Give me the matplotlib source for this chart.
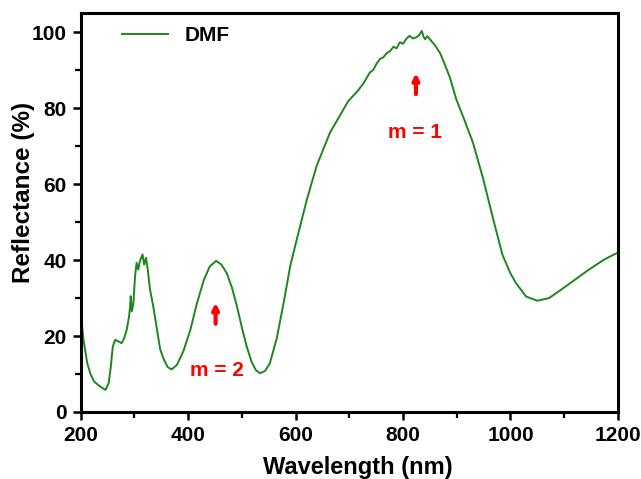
import matplotlib
matplotlib.use('Agg')
import matplotlib.pyplot as plt
from matplotlib.ticker import MultipleLocator

plt.rcParams['font.family'] = ['Liberation Sans', 'DejaVu Sans']
plt.rcParams['font.weight'] = 'bold'

# reflectance spectrum
wavelength = [200, 205, 212, 218, 225, 235, 246, 252, 256, 259.6, 264, 270, 276, 281,
              285.6, 290, 292, 293, 295, 298, 301, 304, 307, 310, 315, 318, 321.5, 324.7,
              329, 335, 342, 348, 355, 362, 369, 379, 391, 404, 416, 429, 440, 452, 462,
              472, 482, 491, 500, 509, 518, 526, 534, 543, 552, 565, 578, 590, 602, 621,
              639, 664, 680, 698, 715, 726, 738, 745, 750, 757, 763, 770, 776, 782, 788,
              794, 800, 806, 812, 818, 825, 830, 835, 838, 841, 845, 850, 860, 869, 875,
              887, 899, 914, 930, 949, 968, 985, 1000, 1010, 1029, 1050, 1072, 1103, 1146,
              1175, 1200]
reflectance = [26.5, 19, 12.9, 10, 8.0, 6.8, 5.8, 7.6, 12, 17.2, 19.0, 18.6, 18.1, 19.5,
               21.7, 25.2, 28, 30.5, 26.5, 28.7, 35.7, 39.3, 37.5, 39.7, 41.5, 38.8, 40.6, 37.5,
               32.2, 27.8, 21.6, 16.4, 13.7, 11.8, 11.2, 12.4, 16, 21.6, 28.5, 34.7, 38.3, 39.8, 38.8,
               36.5, 32.5, 27.7, 22.2, 17.2, 13.2, 11, 10.2, 10.8, 12.8, 19.5, 29, 38.5, 45.4, 56,
               64.8, 73.6, 77.5, 81.9, 84.5, 86.5, 89.4, 90.2, 91.6, 93, 93.4, 94.6, 95.1, 96.2, 95.8,
               97.4, 97.0, 98.3, 99.1, 98.4, 98.7, 99.3, 100.4, 98.9, 98.2, 99.0, 98.2, 96.5, 94.5, 92.5,
               88.2, 82.4, 77, 71, 61.5, 50.7, 41.4, 36.5, 34, 30.4, 29.3, 30, 33.1, 37.5,
               40.2, 42]

xticks = [200, 400, 600, 800, 1000, 1200]
yticks = [0, 20, 40, 60, 80, 100]

fig = plt.figure(figsize=(6.41, 4.79), dpi=100)
ax = fig.add_axes([0.126, 0.140, 0.838, 0.832])

ax.plot(wavelength, reflectance, color='#1e861e', lw=1.4, label='DMF')

ax.set_xlim(200, 1200)
ax.set_ylim(0, 105)
ax.set_xticks(xticks)
ax.set_yticks(yticks)
ax.xaxis.set_minor_locator(MultipleLocator(100))
ax.yaxis.set_minor_locator(MultipleLocator(10))
ax.tick_params(which='major', direction='out', length=6, width=1.8, labelsize=15, pad=4)
ax.tick_params(which='minor', direction='out', length=4, width=1.6)
for lab in ax.get_xticklabels() + ax.get_yticklabels():
    lab.set_fontweight('bold')
for sp in ax.spines.values():
    sp.set_linewidth(2.2)

ax.set_xlabel('Wavelength (nm)', fontsize=17, fontweight='bold')
ax.set_ylabel('Reflectance (%)', fontsize=17.5, fontweight='bold')
ax.xaxis.set_label_coords(0.515, -0.11)
ax.yaxis.set_label_coords(-0.085, 0.55)

# order labels with arrows
ax.annotate('', xy=(824, 90), xytext=(824, 83),
            arrowprops=dict(arrowstyle='-|>', color='red', lw=3, mutation_scale=9))
ax.text(822, 73.5, 'm = 1', color='red', fontsize=15, fontweight='bold', ha='center', va='center')
ax.annotate('', xy=(451, 29.5), xytext=(451, 22.5),
            arrowprops=dict(arrowstyle='-|>', color='red', lw=3, mutation_scale=9))
ax.text(453, 11, 'm = 2', color='red', fontsize=15, fontweight='bold', ha='center', va='center')

leg = ax.legend(loc='upper left', frameon=False, fontsize=15, handlelength=2.2,
                handletextpad=0.8, borderaxespad=0.2, bbox_to_anchor=(0.054, 1.0))
for t in leg.get_texts():
    t.set_fontweight('bold')

fig.savefig('out.png', dpi=100)
